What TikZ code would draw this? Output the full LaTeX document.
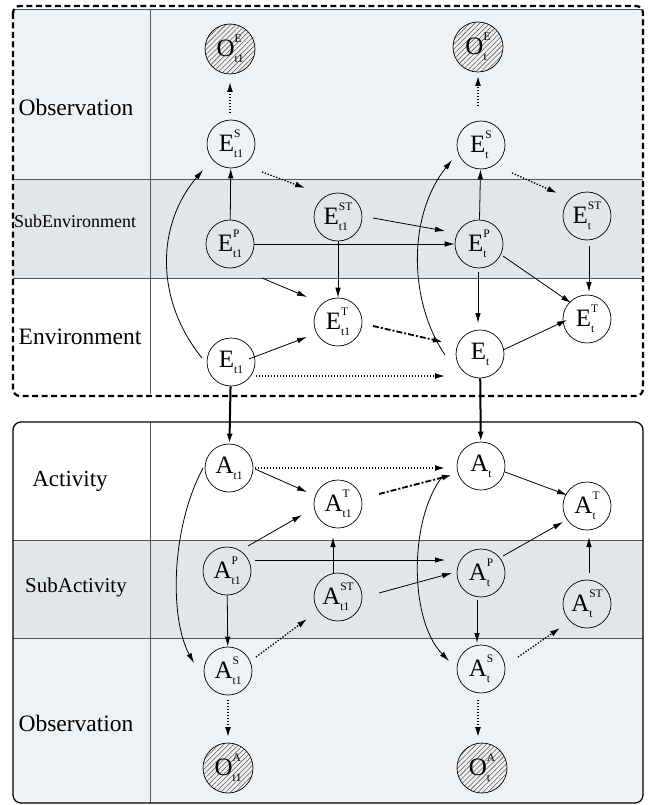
\documentclass[tikz,border=0pt]{standalone}
\usepackage{fontspec}
\setmainfont{Liberation Serif}
\usetikzlibrary{arrows.meta,calc,patterns.meta}
\definecolor{obsc}{RGB}{239,242,244}
\definecolor{subc}{RGB}{226,229,234}
\definecolor{linec}{RGB}{85,85,85}
\newcommand{\nlab}[3]{#1{\fontsize{11.5}{11.5}\selectfont\setbox0=\hbox{#2}\setbox2=\hbox{#3}\ifdim\wd0>\wd2 \dimen0=\wd0 \else\dimen0=\wd2 \fi\hbox to \dimen0{\rlap{\raise14pt\box0}\lower6pt\box2\hss}}}
\tikzset{
  nd/.style={circle,draw,line width=0.7pt,minimum size=48pt,inner sep=0pt,font=\fontsize{25}{25}\selectfont},
  obsnd/.style={nd,minimum size=50pt,preaction={fill=black!6},pattern={Lines[angle=45,distance=3.5pt,line width=0.55pt]},pattern color=black!65},
  sol/.style={line width=0.8pt,-{Latex[length=10pt,width=5.5pt]}},
  dotarr/.style={line width=1.4pt,dash pattern=on 1.3pt off 1.7pt,-{Latex[length=10pt,width=6pt]}},
  dasharr/.style={line width=1.8pt,dash pattern=on 6pt off 2pt on 2pt off 2pt,-{Latex[length=10pt,width=6pt]}},
  thk/.style={line width=2pt,-{Latex[length=10pt,width=6pt]}},
  band/.style={draw=linec,line width=0.8pt},
  lbl/.style={inner sep=0pt}
}
\begin{document}
\begin{tikzpicture}[x=1pt,y=-1pt]
\useasboundingbox (0,0) rectangle (651,805);
% ---------- top frame ----------
\fill[obsc] (13,9) rectangle (643,179);
\fill[subc] (13,179) rectangle (643,278);
\draw[band] (13,9) -- (643,9);
\draw[band] (13,179) -- (643,179);
\draw[band] (13,278) -- (643,278);
\draw[band] (150,9) -- (150,394);
\draw[line width=2.2pt,dash pattern=on 6pt off 3.5pt,rounded corners=7pt] (13,6) rectangle (643,396);
% ---------- bottom frame ----------
\begin{scope}
\clip[rounded corners=8pt] (13,422) rectangle (643,803);
\fill[white] (13,422) rectangle (643,540);
\fill[subc] (13,540) rectangle (643,638);
\fill[obsc] (13,638) rectangle (643,803);
\end{scope}
\draw[band] (13,540) -- (643,540);
\draw[band] (13,638) -- (643,638);
\draw[band] (150,422) -- (150,803);
\draw[line width=1.3pt,rounded corners=8pt] (13,422) rectangle (643,803);
% ---------- row labels ----------
\node[lbl,font=\fontsize{23.5}{23.5}\selectfont] (l1) at (76,107) {Observation};
\node[lbl,font=\fontsize{18}{18}\selectfont] (l2) at (75,221) {SubEnvironment};
\node[lbl,font=\fontsize{23.5}{23.5}\selectfont] (l3) at (80,337) {Environment};
\node[lbl,font=\fontsize{23}{23}\selectfont] (l4) at (70,481) {Activity};
\node[lbl,font=\fontsize{21}{21}\selectfont] (l5) at (76,587) {SubActivity};
\node[lbl,font=\fontsize{23.5}{23.5}\selectfont] (l6) at (76,723) {Observation};
% ---------- nodes ----------
\node[obsnd] (OEt1) at (230,49) {\nlab{O}{E}{t1}};
\node[nd] (ESt1) at (231,144) {\nlab{E}{S}{t1}};
\node[nd] (EPt1) at (230,244) {\nlab{E}{P}{t1}};
\node[nd] (Et1) at (231,362) {\nlab{E}{}{t1}};
\node[nd] (ESTt1) at (338,217) {\nlab{E}{ST}{t1}};
\node[nd] (ETt1) at (338,322) {\nlab{E}{T}{t1}};
\node[obsnd] (OEt) at (478,47) {\nlab{O}{E}{t}};
\node[nd] (ESt) at (481,145) {\nlab{E}{S}{t}};
\node[nd] (EPt) at (479,244) {\nlab{E}{P}{t}};
\node[nd] (Et) at (480,354) {\nlab{E}{}{t}};
\node[nd] (ESTt) at (587,216) {\nlab{E}{ST}{t}};
\node[nd] (ETt) at (587,319) {\nlab{E}{T}{t}};
\node[nd] (At1) at (229,468) {\nlab{A}{}{t1}};
\node[nd] (APt1) at (227,571) {\nlab{A}{P}{t1}};
\node[nd] (ASt1) at (228,671) {\nlab{A}{S}{t1}};
\node[obsnd] (OAt1) at (228,768) {\nlab{O}{A}{t1}};
\node[nd] (ATt1) at (338,504) {\nlab{A}{T}{t1}};
\node[nd] (ASTt1) at (338,597) {\nlab{A}{ST}{t1}};
\node[nd] (At) at (481,466) {\nlab{A}{}{t}};
\node[nd] (APt) at (481,573) {\nlab{A}{P}{t}};
\node[nd] (ASt) at (481,669) {\nlab{A}{S}{t}};
\node[obsnd] (OAt) at (482,768) {\nlab{O}{A}{t}};
\node[nd] (ATt) at (587,506) {\nlab{A}{T}{t}};
\node[nd] (ASTt) at (587,604) {\nlab{A}{ST}{t}};
% ---------- top edges ----------
\draw[dotarr] ($(ESt1)+(-1,-31)$) -- ($(OEt1)+(0,33)$);
\draw[sol] (EPt1) -- (ESt1);
\draw[dotarr] ($(ESt1)+(31,28)$) -- ($(ESTt1)+(-33,-29)$);
\draw[sol] (EPt1) -- (EPt);
\draw[sol] ($(ESTt1)+(35,1)$) -- ($(EPt)+(-34,-13)$);
\draw[sol] (ESTt1) -- (ETt1);
\draw[sol] ($(EPt1)+(32,34)$) -- ($(ETt1)+(-31,-25)$);
\draw[sol] ($(Et1)+(18,-3)$) -- ($(ETt1)+(-31,15)$);
\draw[dotarr] ($(Et1)+(25,14)$) -- ($(Et)+(-35,22)$);
\draw[dasharr] ($(ETt1)+(35,4)$) -- ($(Et)+(-37,-12)$);
\draw[sol] ($(Et1)+(-29,-4)$) .. controls ($(Et1)+(-76,-62)$) and ($(ESt1)+(-75,81)$) .. ($(ESt1)+(-28,26)$);
\draw[sol] ($(Et)+(-35,1)$) .. controls ($(Et)+(-72,-54)$) and ($(ESt)+(-73,70)$) .. ($(ESt)+(-29,15)$);
\draw[dotarr] ($(ESt)+(-3,-39)$) -- ($(OEt)+(0,29)$);
\draw[sol] (EPt) -- (ESt);
\draw[dotarr] ($(ESt)+(31,28)$) -- ($(ESTt)+(-30,-23)$);
\draw[sol] ($(EPt)+(-1,28)$) -- ($(Et)+(-2,-31)$);
\draw[sol] ($(EPt)+(24,12)$) -- ($(ETt)+(-16,-16)$);
\draw[sol] ($(ESTt)+(2,30)$) -- ($(ETt)+(2,-27)$);
\draw[sol] ($(Et)+(23,-4)$) -- ($(ETt)+(-20,1)$);
% ---------- between frames ----------
\draw[thk] (Et1) -- (At1);
\draw[thk] (Et) -- (At);
% ---------- bottom edges ----------
\draw[dotarr] ($(At1)+(26,0)$) -- ($(At)+(-36,2)$);
\draw[sol] ($(At1)+(26,1)$) -- ($(ATt1)+(-31,-12)$);
\draw[sol] ($(APt1)+(21,-25)$) -- ($(ATt1)+(-36,11)$);
\draw[sol] ($(APt1)+(28,-11)$) -- ($(APt)+(-36,-13)$);
\draw[sol] ($(ASTt1)+(-5,-24)$) -- ($(ATt1)+(-5,33)$);
\draw[sol] ($(ASTt1)+(41,-4)$) -- ($(APt)+(-29,0)$);
\draw[dasharr] ($(ATt1)+(41,-10)$) -- ($(At)+(-29,9)$);
\draw[sol] ($(At1)+(-26,0)$) .. controls ($(At1)+(-59,62)$) and ($(ASt1)+(-58,-51)$) .. ($(ASt1)+(-34,-8)$);
\draw[sol] (APt1) -- (ASt1);
\draw[dotarr] ($(ASt1)+(28,-14)$) -- ($(ASTt1)+(-31,22)$);
\draw[dotarr] ($(ASt1)+(0,29)$) -- ($(OAt1)+(0,-31)$);
\draw[sol] ($(At)+(-39,11)$) .. controls ($(At)+(-72,54)$) and ($(ASt)+(-72,-49)$) .. ($(ASt)+(-32,-8)$);
\draw[sol] ($(At)+(24,6)$) -- ($(ATt)+(-20,-11)$);
\draw[sol] ($(APt)+(22,-17)$) -- ($(ATt)+(-24,16)$);
\draw[sol] ($(ASTt)+(2,-31)$) -- ($(ATt)+(2,31)$);
\draw[sol] ($(APt)+(-4,27)$) -- ($(ASt)+(-4,-26)$);
\draw[dotarr] ($(ASt)+(37,-12)$) -- ($(ASTt)+(-27,24)$);
\draw[dotarr] ($(ASt)+(-3,31)$) -- ($(OAt)+(-4,-31)$);
\end{tikzpicture}
\end{document}
